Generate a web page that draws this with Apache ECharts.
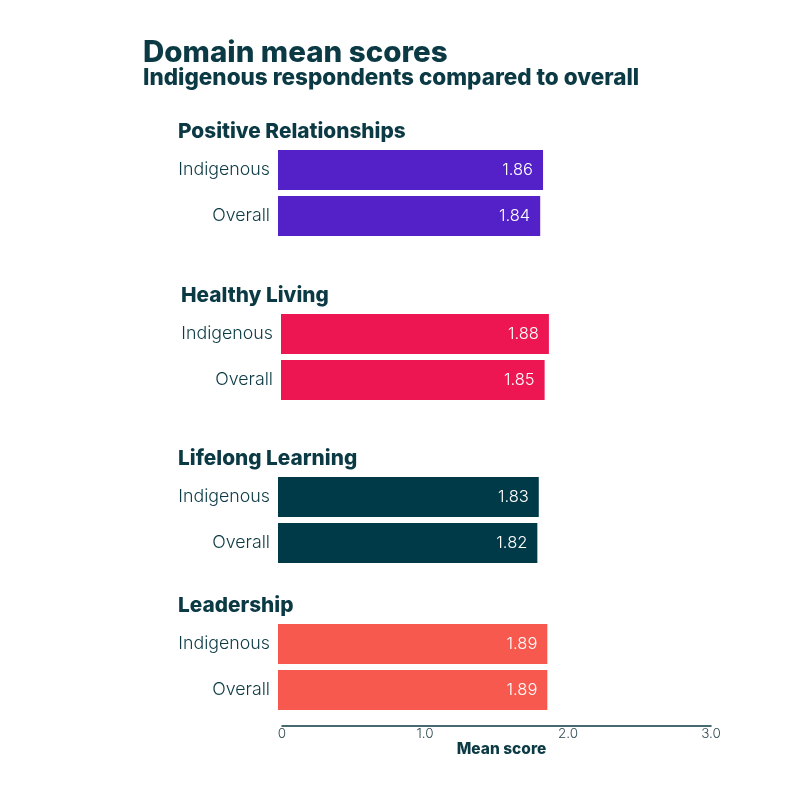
<!DOCTYPE html>
<html>
<head>
<meta charset="utf-8">
<script src="https://cdn.jsdelivr.net/npm/echarts@6/dist/echarts.min.js"></script>
<style>html,body{margin:0;padding:0;background:#fff;}#c{width:793px;height:800px;}</style>
</head>
<body>
<div id="c"></div>
<script>
const domains = ['Positive Relationships', 'Healthy Living', 'Lifelong Learning', 'Leadership'];
const groups = ['Indigenous', 'Overall'];
const indigenous = [1.86, 1.88, 1.83, 1.89];
const overall = [1.84, 1.85, 1.82, 1.89];
const colors = ['#5421c9', '#ee1652', '#003a48', '#f7594f'];
const xTicks = [0, 1, 2, 3];

const dark = '#0b3a44';
const font = 'Inter';
const gridTops = [147, 311, 474, 621];
const gridLefts = [278, 281, 278, 278];
const headX = [173, 176, 173, 173];
const headY = [116, 280, 443, 590];

const grids = [], xAxes = [], yAxes = [], series = [], titles = [];
titles.push({ text: 'Domain mean scores', left: 138, top: 33,
  textStyle: { fontFamily: font, fontWeight: 800, fontSize: 29.5, color: dark } });
titles.push({ text: 'Indigenous respondents compared to overall', left: 138, top: 62,
  textStyle: { fontFamily: font, fontWeight: 800, fontSize: 22.5, color: dark } });

domains.forEach((d, i) => {
  titles.push({ text: d, left: headX[i], top: headY[i],
    textStyle: { fontFamily: font, fontWeight: 800, fontSize: 20.8, color: dark } });
  grids.push({ left: gridLefts[i], top: gridTops[i], width: 427.5, height: 92 });
  xAxes.push({ gridIndex: i, type: 'value', min: 0, max: 3, show: false });
  yAxes.push({ gridIndex: i, type: 'category', data: groups, inverse: true,
    axisLine: { show: false }, axisTick: { show: false },
    axisLabel: { margin: 8, fontFamily: font, fontSize: 17.8, fontWeight: 300, color: dark } });
  series.push({ type: 'bar', xAxisIndex: i, yAxisIndex: i, barWidth: 40,
    data: [indigenous[i], overall[i]],
    itemStyle: { color: colors[i] },
    label: { show: true, position: 'insideRight', distance: 10, color: '#fff',
      fontFamily: font, fontSize: 16.5, fontWeight: 300,
      formatter: p => p.value.toFixed(2) } });
});

// shared axis grid
grids.push({ left: 282, top: 700, width: 429, height: 25.5 });
xAxes.push({ gridIndex: 4, type: 'value', min: xTicks[0], max: xTicks[xTicks.length - 1], interval: 1,
  name: 'Mean score', nameLocation: 'middle', nameGap: 16,
  nameTextStyle: { fontFamily: font, fontWeight: 800, fontSize: 15.5, color: dark, padding: [0, 0, 0, 10] },
  axisLine: { show: true, lineStyle: { color: dark, width: 1.5 } },
  axisTick: { show: false }, splitLine: { show: false },
  axisLabel: { margin: 1, fontFamily: font, fontSize: 13.5, fontWeight: 300, color: '#2f4a52',
    formatter: v => v === 0 ? '0' : v.toFixed(1) } });
yAxes.push({ gridIndex: 4, type: 'value', show: false });

const chart = echarts.init(document.getElementById('c'));
chart.setOption({
  animation: false,
  backgroundColor: '#fff',
  title: titles,
  grid: grids,
  xAxis: xAxes,
  yAxis: yAxes,
  series: series
});
</script>
</body>
</html>
